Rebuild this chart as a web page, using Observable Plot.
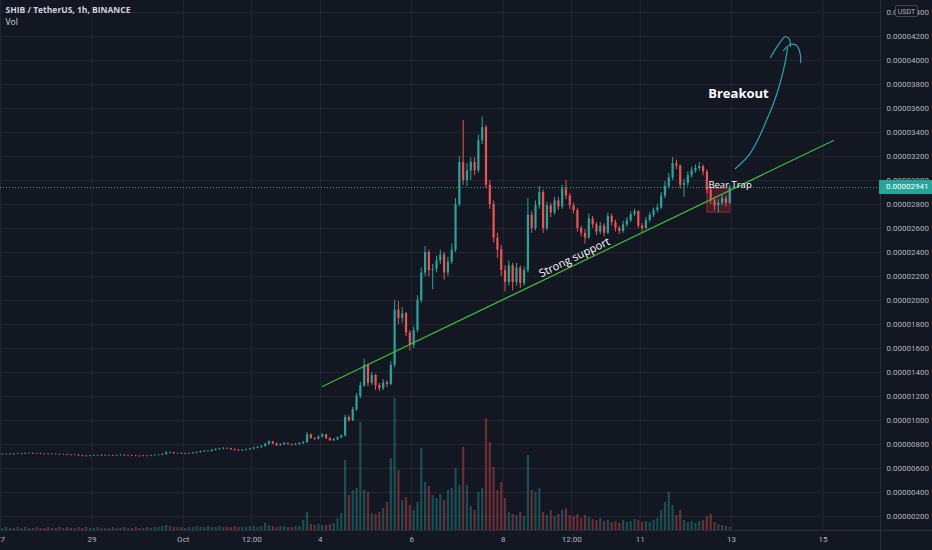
<!DOCTYPE html>
<html><head><meta charset="utf-8">
<script src="https://cdn.jsdelivr.net/npm/d3@7"></script>
<script src="https://cdn.jsdelivr.net/npm/@observablehq/plot@0.6"></script>
<style>
html,body{margin:0;padding:0;background:#131722;}
#wrap{position:relative;width:932px;height:550px;overflow:hidden;background:#131722;font-family:Roboto,"Open Sans",sans-serif;}
#wrap svg{position:absolute;left:0;top:0;}
.abs{position:absolute;}
</style></head><body><div id="wrap"></div>
<script>
// Prices in units of 1e-8 USDT, 2-hour candles starting 27 Sep 2021 00:00 UTC (one row = one day)
const firstOpen = 714;
const closes = [
716,718,715,720,722,719,724,726,721,723,720,718,
716,719,717,714,716,712,709,711,706,703,700,704,
707,705,709,706,708,704,707,710,706,708,705,702,
700,704,702,706,709,712,716,728,731,724,722,725,
721,724,728,733,740,745,742,752,758,762,766,764,
758,752,748,752,756,762,770,776,784,800,820,805,
790,798,808,800,795,800,808,815,880,850,845,862,
880,850,832,840,855,870,1025,1000,1090,1200,1290,1460,
1310,1375,1290,1265,1315,1300,1460,1920,1850,1890,1730,1625,
1750,2000,2230,2400,2250,2260,2330,2380,2230,2320,2420,2800,
3150,3000,3080,3150,3080,3330,3440,2960,2800,2520,2420,2250,
2150,2290,2150,2270,2140,2250,2710,2600,2790,2900,2600,2790,
2730,2830,2780,2930,2870,2790,2750,2600,2560,2520,2680,2630,
2570,2620,2560,2700,2650,2600,2575,2630,2665,2715,2740,2620,
2600,2665,2710,2750,2770,2870,2950,3020,3140,3120,2960,2975,
3040,3080,3100,3115,3070,2920,2830,2790,2810,2850,2810,2941];
const highs = [
721,723,722,726,727,725,729,731,729,728,727,724,
722,724,723,721,720,719,716,716,714,709,707,709,
712,711,714,712,713,711,712,715,713,713,711,709,
706,709,708,711,714,717,722,740,738,734,728,731,
729,730,734,739,746,752,750,758,765,770,775,772,
768,762,757,758,762,769,777,784,792,810,832,826,
810,806,816,812,805,808,815,825,900,888,858,872,
892,885,856,850,864,880,1045,1040,1110,1225,1320,1510,
1470,1400,1385,1310,1340,1330,1490,2000,1990,1940,1900,1750,
1780,2040,2270,2450,2420,2300,2370,2420,2400,2360,2470,2850,
3200,3500,3140,3190,3190,3380,3530,3460,3000,2830,2560,2460,
2290,2330,2310,2310,2290,2280,2850,2740,2830,2950,2920,2820,
2810,2860,2860,2960,3000,2890,2810,2770,2620,2590,2720,2700,
2650,2650,2640,2730,2720,2670,2620,2660,2690,2740,2760,2750,
2640,2690,2730,2770,2800,2900,2990,3060,3190,3170,3130,3010,
3070,3110,3130,3150,3130,3090,2940,2850,2840,2880,2870,2960];
const lows = [
710,712,711,713,716,715,716,720,717,718,716,713,
711,713,712,709,710,707,704,705,701,698,694,697,
700,700,702,701,702,699,700,703,701,702,700,697,
694,697,697,699,702,705,708,712,722,719,716,717,
715,716,719,723,728,734,736,737,746,752,756,757,
750,745,741,742,746,750,756,764,770,778,795,798,
783,785,792,793,788,790,795,802,810,842,835,838,
855,842,825,826,834,848,865,985,990,1075,1180,1275,
1280,1295,1250,1240,1250,1275,1290,1440,1800,1810,1700,1580,
1600,1730,1980,2200,2200,2090,2230,2300,2170,2200,2300,2400,
2780,2960,2950,3000,3040,3060,3300,2930,2760,2480,2350,2200,
2070,2120,2080,2120,2100,2120,2230,2560,2580,2760,2560,2580,
2690,2710,2750,2760,2840,2760,2720,2570,2530,2470,2510,2600,
2540,2550,2530,2550,2620,2570,2550,2560,2610,2650,2700,2600,
2560,2590,2650,2690,2730,2760,2850,2930,3000,3090,2930,2860,
2950,3020,3060,3080,3040,2890,2800,2750,2730,2790,2780,2800];
const volumes = [
2,3,2,2,3,2,3,2,2,3,2,2,
3,2,2,3,2,3,2,2,3,2,3,2,
2,3,2,2,2,3,2,2,3,2,2,3,
2,2,3,2,3,3,4,5,4,3,3,3,
2,3,3,4,3,3,4,3,3,4,3,3,
3,4,3,3,3,4,4,3,4,7,5,4,
3,4,4,3,3,4,4,10,18,6,5,6,
5,5,6,7,12,17,70,35,40,42,108,40,
38,17,16,18,22,28,72,132,60,30,33,25,
20,28,82,48,44,35,32,36,30,40,42,62,
45,83,45,24,20,38,42,112,88,63,40,48,
32,18,16,15,18,14,75,40,38,42,18,15,
20,14,16,20,22,15,14,16,12,15,13,11,
10,12,9,10,8,9,7,10,8,9,11,10,
8,9,8,10,12,20,28,38,25,15,20,10,
8,9,7,9,10,14,16,8,6,5,4,3];

// axis ticks: hours since 27 Sep 00:00
const tickHours = [0,48,96,132,168,216,264,300,336,384,432];
const tickLabels = ["27","29","Oct","12:00","4","6","8","12:00","11","13","15"];
const priceTicks = [200,400,600,800,1000,1200,1400,1600,1800,2000,2200,2400,2600,2800,3000,3200,3400,3600,3800,4000,4200,4400];

// annotations (hours, price)
const supportT = [169.1, 437.5], supportV = [1283, 3333];
const shaftT = [386.0,392.9,397.6,402.3,406.0,409.1,411.2,412.8,413.3];
const shaftV = [3100,3208,3333,3500,3642,3792,3917,4042,4108];
const head1T = [404.4,408.6,412.3,414.4,414.9], head1V = [4025,4133,4200,4175,4117];
const head2T = [411.2,414.9,418.1,420.2,420.2], head2V = [4083,4133,4125,4042,3983];
const trapBox = {x1:371.3, x2:383.4, y1:2733, y2:2930};

const up = "#26a69a", down = "#ef5350";
const candles = closes.map((c,i)=>({t:2*i+1, o:i===0?firstOpen:closes[i-1], c, h:highs[i], l:lows[i], v:volumes[i]}));
const col = d => d.c >= d.o ? up : down;
const pts = (T,V) => T.map((t,i)=>({t, v:V[i]}));
const labelMap = new Map(tickHours.map((h,i)=>[h,tickLabels[i]]));
const lastClose = closes[closes.length-1];

const base = {width:932,height:550,marginTop:0,marginLeft:0,marginRight:52,marginBottom:20,
  style:{background:"transparent",color:"#b2b5be",fontFamily:"Roboto, sans-serif",overflow:"visible"}};
const xOpt = {type:"linear",domain:[0,462.2],range:[0,880],label:null};
const yOpt = {domain:[0,4500],range:[540,0],label:null};

const grid = Plot.plot({...base, x:{...xOpt,axis:null}, y:{...yOpt,axis:null}, marks:[
  Plot.gridX(tickHours,{stroke:"#222632",strokeOpacity:1}),
  Plot.gridY(priceTicks,{stroke:"#222632",strokeOpacity:1})
]});

const vol = Plot.plot({...base, x:{...xOpt,axis:null}, y:{domain:[0,132],range:[530,398],axis:null,label:null}, marks:[
  Plot.ruleX(candles,{x:"t",y1:0,y2:"v",stroke:col,strokeWidth:2.2,strokeOpacity:0.4})
]});

const main = Plot.plot({...base, x:xOpt, y:yOpt, marks:[
  Plot.axisX(tickHours,{anchor:"bottom",tickSize:0,tickPadding:6,fontSize:8,label:null,tickFormat:d=>labelMap.get(d)}),
  Plot.axisY(priceTicks,{anchor:"right",tickSize:0,tickPadding:6,fontSize:8,label:null,tickFormat:d=>(d/1e8).toFixed(8)}),
  Plot.ruleY([lastClose],{stroke:up,strokeDasharray:"1,2",strokeWidth:1}),
  Plot.rect([trapBox],{x1:"x1",x2:"x2",y1:"y1",y2:"y2",fill:"#f23645",fillOpacity:0.2,stroke:"#f23645",strokeOpacity:0.55}),
  Plot.ruleX(candles,{x:"t",y1:"l",y2:"h",stroke:col,strokeWidth:1}),
  Plot.ruleX(candles,{x:"t",y1:"o",y2:"c",stroke:col,strokeWidth:2.2}),
  Plot.line(pts(supportT,supportV),{x:"t",y:"v",stroke:"#3dba3d",strokeWidth:1.2}),
  Plot.text([{t:301.5,v:2358}],{x:"t",y:"v",text:()=>"Strong support",rotate:-25.7,fill:"#ffffff",fontSize:11,fontFamily:"Open Sans, sans-serif"}),
  Plot.text([{t:371.8,v:2967}],{x:"t",y:"v",text:()=>"Bear Trap",textAnchor:"start",fill:"#ffffff",fontSize:9.5,fontFamily:"Open Sans, sans-serif"}),
  Plot.text([{t:387.6,v:3725}],{x:"t",y:"v",text:()=>"Breakout",fill:"#ffffff",fontSize:13,fontWeight:"bold",fontFamily:"Open Sans, sans-serif"}),
  Plot.line(pts(shaftT,shaftV),{x:"t",y:"v",curve:"catmull-rom",stroke:"#2aa5b3",strokeWidth:1.2}),
  Plot.line(pts(head1T,head1V),{x:"t",y:"v",curve:"catmull-rom",stroke:"#2aa5b3",strokeWidth:1.2}),
  Plot.line(pts(head2T,head2V),{x:"t",y:"v",curve:"catmull-rom",stroke:"#2aa5b3",strokeWidth:1.2}),
  Plot.text(["SHIB / TetherUS, 1h, BINANCE"],{frameAnchor:"top-left",dx:5,dy:6,lineAnchor:"top",textAnchor:"start",fill:"#d1d4dc",fontSize:8.5,fontWeight:"bold",fontFamily:"Open Sans, sans-serif"}),
  Plot.text(["Vol"],{frameAnchor:"top-left",dx:5,dy:18,lineAnchor:"top",textAnchor:"start",fill:"#d1d4dc",fontSize:8.5,fontFamily:"Open Sans, sans-serif"})
]});

const wrap = document.getElementById("wrap");
wrap.append(grid, vol, main);

function div(css, text){ const d=document.createElement("div"); d.className="abs"; d.style.cssText=css; if(text) d.textContent=text; wrap.append(d); return d; }
div("left:880px;top:0;width:1px;height:550px;background:#2a2e39;");
div("left:0;top:530px;width:932px;height:1px;background:#2a2e39;");
const yPx = main.scale("y").apply(lastClose);
div(`left:879px;top:${yPx-7}px;width:53px;height:14px;background:${up};color:#fff;font-size:8px;line-height:14px;padding-left:7px;box-sizing:border-box;`, (lastClose/1e8).toFixed(8));
div("left:895px;top:5px;width:23px;height:12px;border:1px solid #434651;border-radius:2px;background:#131722;color:#b2b5be;font-size:7px;line-height:12px;text-align:center;box-sizing:border-box;", "USDT");
</script></body></html>
